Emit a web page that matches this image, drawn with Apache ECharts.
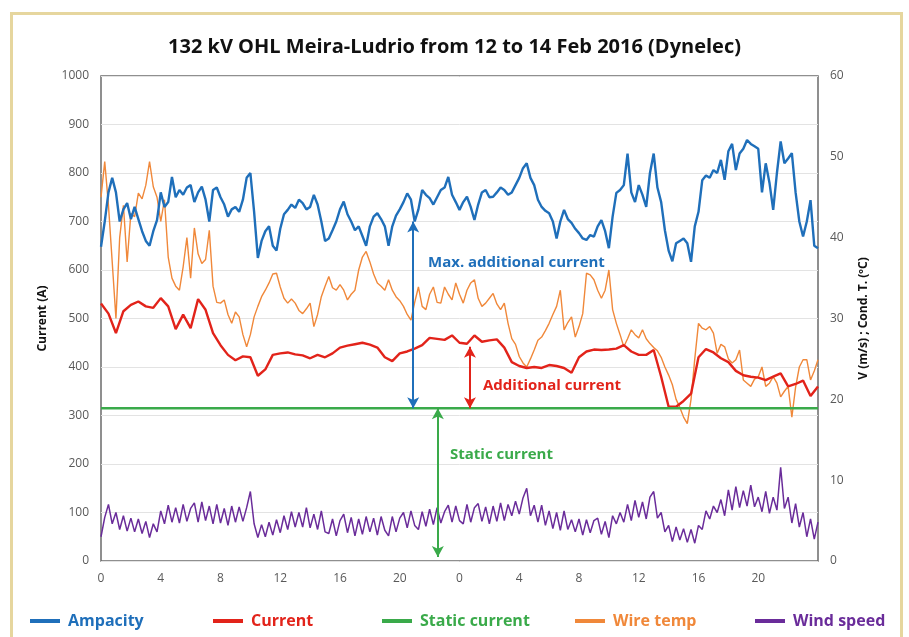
<!DOCTYPE html>
<html>
<head>
<meta charset="utf-8">
<script src="https://cdn.jsdelivr.net/npm/echarts@6/dist/echarts.min.js"></script>
<style>
html,body{margin:0;padding:0;background:#fff;}
#chart{width:909px;height:637px;}
</style>
</head>
<body>
<div id="chart"></div>
<script>
// ---- data ----
var titleText = '132 kV OHL Meira-Ludrio from 12 to 14 Feb 2016 (Dynelec)';
var seriesNames = ['Ampacity', 'Current', 'Static current', 'Wire temp', 'Wind speed'];
var hourTickLabels = ['0','4','8','12','16','20','0','4','8','12','16','20',''];
var hoursSpan = 48;
var stepFine = 0.25;   // hours between samples (ampacity, wire temp, wind)
var stepCoarse = 0.5;  // hours between samples (current)
var staticCurrent = 315;

var ampacity = [
648,700,760,790,760,700,725,738,705,730,705,680,660,650,680,703,
760,730,740,792,750,765,755,770,775,740,760,772,745,700,765,770,
750,735,710,725,730,720,745,790,800,720,625,660,680,690,650,640,
685,715,724,735,728,745,738,725,730,755,735,700,660,665,682,700,
725,741,715,700,682,690,670,650,690,710,717,705,690,650,690,712,
725,740,758,745,700,725,765,755,748,735,750,765,770,792,755,740,
724,740,751,730,703,735,760,765,750,751,760,770,765,755,760,775,
790,810,820,790,775,745,730,722,717,700,665,700,724,705,697,685,
676,665,662,672,669,690,703,680,645,710,759,765,775,840,760,740,
775,755,730,800,840,770,740,682,640,618,655,660,665,655,617,690,
720,785,795,790,806,800,827,786,845,860,806,840,850,868,860,855,
850,760,820,780,724,800,865,820,830,841,760,700,669,700,744,650,
645];

var current = [
531,510,470,515,528,535,525,522,
542,525,478,508,480,540,518,470,
445,425,414,422,420,382,395,425,
428,430,426,424,418,425,420,428,
440,444,447,450,446,440,420,412,
428,432,438,445,460,458,456,465,
450,448,465,452,455,457,440,410,
402,398,400,398,404,402,398,388,
420,432,436,435,436,438,445,432,
425,425,435,380,318,318,330,345,
420,437,430,418,410,392,383,380,
378,373,380,387,360,365,372,340,
360];

var wireTemp = [
45,49.4,44,37,30,40,44,37,43,42.6,45.5,44.8,46.5,49.4,46.3,45,
42,44.7,37.6,35,34,33.5,36.4,40,35,41.2,38,36.8,37.3,40.9,34,32,
31.9,32.3,30.5,29.4,30.8,30.2,28,26.5,28,30.2,31.5,32.7,33.5,34.4,35.5,35.6,
33.9,32.5,31.9,32.4,31.9,31,30.6,31.2,31.9,29,30.5,32.7,34,35.2,33.8,33.5,
34.2,33.5,32.3,33,33.5,36,37.6,38.3,37,35.5,34.4,34,33.5,34.8,33.5,32.7,
32.2,31.5,30.5,29.8,32,33.9,31.5,31.1,33,33.9,32,31.9,33.9,33,32.3,34.4,
33,31.9,33.5,34.4,34.8,32.5,31.5,31.9,32.5,33.1,31.8,31.1,31.9,29.4,27.5,26.8,
25.3,24.5,24,25,26.1,27.3,27.7,28.5,29.4,30.5,31.5,33.5,28.6,29.5,30.2,27.7,
29,30.6,35.6,35.4,34.8,33.5,32.5,33.5,36,31.1,29.4,28,26.5,27.5,28.6,28,
27.6,28.6,27.5,26.9,26.4,26,25.2,24,23,21.8,20,19,17.8,17,20,25,
29.4,28.8,28.6,29,28.2,25.7,26.8,26.5,25,24.5,24.9,26.1,22.4,22,21.6,22.5,
22.8,24,21.6,22,22.8,22,20.3,21,21.6,17.8,21.5,24,24.9,24.9,22.4,23.5,
24.9];

var windSpeed = [
3.0,5.4,7.0,4.6,6.0,
3.9,5.6,3.7,5.3, 3.6,5.2,3.4,4.9, 2.9,4.6,3.6,6.2,
4.6,6.9,4.8,6.6, 4.7,7.0,4.9,6.5, 7.2,4.8,7.3,5.0, 6.8,4.6,7.0,4.7,
6.5,4.4,6.8,4.8, 6.7,4.9,6.6,8.6, 4.6,2.9,4.5,3.0, 4.8,3.2,5.1,3.5,
5.6,3.9,6.1,4.2, 6.0,4.2,6.6,4.1, 5.8,3.9,6.2,3.6, 3.4,5.2,3.1,5.0,
5.8,3.5,5.4,3.1, 5.2,3.3,5.5,3.6, 5.3,3.2,5.5,3.8, 3.1,5.5,3.6,5.3,
6.0,4.1,6.2,4.4, 3.9,6.1,4.3,6.4, 4.5,6.6,4.7,6.1, 6.9,4.8,6.8,5.0,
4.6,7.0,4.8,6.6, 7.1,4.9,6.7,4.6, 6.8,4.9,7.2,5.0, 7.0,5.6,7.4,5.8,
7.8,9.0,5.6,6.9, 4.8,6.9,4.4,6.2, 4.0,6.0,3.8,6.2, 3.9,5.1,3.6,5.2,
3.2,5.1,3.5,5.0, 5.3,3.3,4.9,2.9, 5.6,4.6,6.0,4.8, 7.0,5.0,7.5,5.4,
7.3,5.2,7.9,8.6, 5.3,6.0,3.6,4.4, 2.4,4.2,2.6,4.0, 2.3,3.9,2.2,4.4,
3.9,6.2,5.2,6.8, 6.0,7.6,5.6,8.8, 6.3,9.2,6.6,8.7, 6.8,9.4,6.7,7.9,
6.1,8.6,5.9,7.9, 6.3,11.6,6.5,7.9, 4.7,7.1,4.2,6.0, 3.0,5.2,2.7,4.8];

// annotation arrows: [hour, from value, to value] on the current axis
var maxAddArrow = [20.9, 315, 700];
var addArrow = [24.7, 315, 442];
var staticArrow = [22.55, 8, 315];

// ---- colours ----
var cBlue = '#1f6fba', cRed = '#e2231a', cGreen = '#3aaa4a', cOrange = '#f0883a', cPurple = '#6a2c9a';
var colors = [cBlue, cRed, cGreen, cOrange, cPurple];

function pairs(arr, step) { return arr.map(function (v, i) { return [i * step, v]; }); }

var chart = echarts.init(document.getElementById('chart'), null, {renderer: 'canvas'});
var FONT = '"Open Sans", "DejaVu Sans", sans-serif';
var legendLefts = [25, 208, 377, 570, 750];

var option = {
  animation: false,
  backgroundColor: '#ffffff',
  title: {
    text: titleText, left: 'center', top: 32,
    textStyle: {fontFamily: FONT, fontSize: 20, fontWeight: 'bold', color: '#111'}
  },
  grid: {left: 101, right: 91, top: 76, bottom: 76, show: true, borderColor: '#6b6b6b', borderWidth: 1.5, containLabel: false},
  legend: seriesNames.map(function (n, i) {
    return {
      data: [n], left: legendLefts[i], top: 608, icon: 'rect', itemWidth: 30, itemHeight: 4,
      textStyle: {fontFamily: FONT, fontSize: 16, fontWeight: 'bold', color: colors[i], padding: [0, 0, 0, 3]}
    };
  }),
  xAxis: {
    type: 'value', min: 0, max: hoursSpan, interval: 4,
    axisLine: {show: false}, axisTick: {show: false}, splitLine: {show: false},
    axisLabel: {
      fontFamily: FONT, fontSize: 12, color: '#595959', margin: 12,
      formatter: function (v) { return hourTickLabels[Math.round(v / 4)]; }
    }
  },
  yAxis: [
    {
      type: 'value', min: 0, max: 1000, interval: 100, position: 'left',
      name: 'Current (A)', nameLocation: 'middle', nameGap: 52, nameRotate: 90,
      nameTextStyle: {fontFamily: FONT, fontSize: 12, fontWeight: 'bold', color: '#111'},
      axisLine: {show: false}, axisTick: {show: false},
      axisLabel: {fontFamily: FONT, fontSize: 12, color: '#595959', margin: 12, formatter: function (v) { return String(v); }},
      splitLine: {lineStyle: {color: '#e3e3e3', width: 1}}
    },
    {
      type: 'value', min: 0, max: 60, interval: 10, position: 'right',
      name: 'V (m/s) ; Cond. T. (\u00baC)', nameLocation: 'middle', nameGap: 40, nameRotate: 90,
      nameTextStyle: {fontFamily: FONT, fontSize: 12, fontWeight: 'bold', color: '#111'},
      axisLine: {show: false}, axisTick: {show: false}, splitLine: {show: false},
      axisLabel: {fontFamily: FONT, fontSize: 12, color: '#595959', margin: 12}
    }
  ],
  series: [
    {name: seriesNames[3], type: 'line', yAxisIndex: 1, data: pairs(wireTemp, stepFine), showSymbol: false, z: 2,
      lineStyle: {color: cOrange, width: 1.4}, itemStyle: {color: cOrange}},
    {name: seriesNames[4], type: 'line', yAxisIndex: 1, data: pairs(windSpeed, stepFine), showSymbol: false, z: 2,
      lineStyle: {color: cPurple, width: 1.5}, itemStyle: {color: cPurple}},
    {name: seriesNames[0], type: 'line', data: pairs(ampacity, stepFine), showSymbol: false, z: 3,
      lineStyle: {color: cBlue, width: 2.4}, itemStyle: {color: cBlue}},
    {name: seriesNames[1], type: 'line', data: pairs(current, stepCoarse), showSymbol: false, z: 3,
      lineStyle: {color: cRed, width: 2.4}, itemStyle: {color: cRed}},
    {name: seriesNames[2], type: 'line', data: [[0, staticCurrent], [hoursSpan, staticCurrent]], showSymbol: false, z: 4,
      lineStyle: {color: cGreen, width: 2.4}, itemStyle: {color: cGreen},
      markLine: {
        silent: true, symbol: ['arrow', 'arrow'], symbolSize: [9, 11], label: {show: false},
        data: [
          [{coord: [maxAddArrow[0], maxAddArrow[1]], lineStyle: {color: cBlue, width: 2, type: 'solid'}, itemStyle: {color: cBlue}},
           {coord: [maxAddArrow[0], maxAddArrow[2]]}],
          [{coord: [addArrow[0], addArrow[1]], lineStyle: {color: cRed, width: 2, type: 'solid'}, itemStyle: {color: cRed}},
           {coord: [addArrow[0], addArrow[2]]}],
          [{coord: [staticArrow[0], staticArrow[1]], lineStyle: {color: cGreen, width: 2, type: 'solid'}, itemStyle: {color: cGreen}},
           {coord: [staticArrow[0], staticArrow[2]]}]
        ]
      }}
  ],
  graphic: [
    {type: 'rect', left: 9, top: 11, silent: true, z: -10,
      shape: {width: 890, height: 640}, style: {fill: null, stroke: '#e6d69e', lineWidth: 3}},
    {type: 'text', left: 428, top: 255, style: {text: 'Max. additional current', fill: cBlue, font: 'bold 15px ' + FONT}},
    {type: 'text', left: 483, top: 378, style: {text: 'Additional current', fill: cRed, font: 'bold 15px ' + FONT}},
    {type: 'text', left: 450, top: 447, style: {text: 'Static current', fill: cGreen, font: 'bold 15px ' + FONT}}
  ]
};
chart.setOption(option);
</script>
</body>
</html>
